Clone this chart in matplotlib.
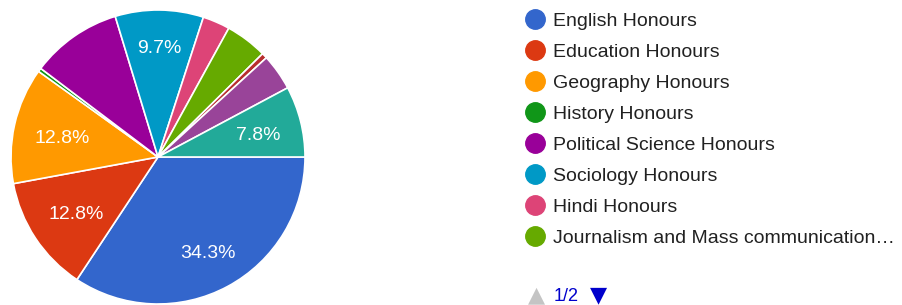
import matplotlib
matplotlib.use("Agg")
import matplotlib.pyplot as plt
import numpy as np
from matplotlib.lines import Line2D
from matplotlib import transforms

categories = ["English Honours", "Education Honours", "Geography Honours", "History Honours",
              "Political Science Honours", "Sociology Honours", "Hindi Honours",
              "Journalism and Mass communication…", "Other 1", "Other 2", "Other 3"]
values = [34.3, 12.8, 12.8, 0.4, 10.0, 9.7, 3.0, 4.6, 0.6, 4.0, 7.8]
slice_labels = ["34.3%", "12.8%", "12.8%", "", "", "9.7%", "", "", "", "", "7.8%"]
colors = ["#3366cc", "#dc3912", "#ff9900", "#109618", "#990099", "#0099c6",
          "#dd4477", "#66aa00", "#b82e2e", "#994499", "#22aa99"]
legend_count = 8
page_label = "1/2"

# label radial distances (layout)
label_dist = [0.72, 0.67, 0.67, 0.7, 0.7, 0.76, 0.7, 0.7, 0.7, 0.7, 0.70]

plt.rcParams['font.family'] = ['Liberation Sans', 'DejaVu Sans']

W, H = 902, 305
fig = plt.figure(figsize=(W / 100, H / 100), dpi=100)
cx, cy, r = 158, 157, 147
ax = fig.add_axes([(cx - r) / W, (H - cy - r) / H, 2 * r / W, 2 * r / H])

wedges, _ = ax.pie(values, colors=colors, startangle=0, counterclock=False, radius=1,
                   wedgeprops=dict(edgecolor="white", linewidth=1.2))
shift = transforms.offset_copy(ax.transData, fig=fig, x=0, y=-3, units="dots")
for w, lab, d in zip(wedges, slice_labels, label_dist):
    if not lab:
        continue
    ang = np.deg2rad((w.theta1 + w.theta2) / 2)
    ax.text(d * np.cos(ang), d * np.sin(ang), lab, color="white", fontsize=14,
            ha="center", va="center", transform=shift)
ax.set_xlim(-1.0, 1.0)
ax.set_ylim(-1.0, 1.0)
ax.set_aspect("equal")
ax.axis("off")

handles = [Line2D([0], [0], marker="o", linestyle="none", markersize=14,
                  markerfacecolor=colors[i], markeredgecolor=colors[i])
           for i in range(legend_count)]
leg = fig.legend(handles, categories[:legend_count], loc="upper left",
                 bbox_to_anchor=(523 / W, 1 - 12 / H), frameon=False, fontsize=14,
                 labelspacing=0.69, handletextpad=0.35, handlelength=1.2,
                 borderaxespad=0, borderpad=0)
for t in leg.get_texts():
    t.set_color("#212121")

fig.text(536 / W, 1 - 295 / H, "▲", color="#c4c4c4", fontsize=16, ha="center", va="center",
         family="DejaVu Sans")
fig.text(554 / W, 1 - 301 / H, page_label, color="#0000cc", fontsize=13, ha="left", va="baseline")
fig.text(598 / W, 1 - 295 / H, "▼", color="#0000cc", fontsize=16, ha="center", va="center",
         family="DejaVu Sans")

fig.savefig("out.png", dpi=100, facecolor="white")
